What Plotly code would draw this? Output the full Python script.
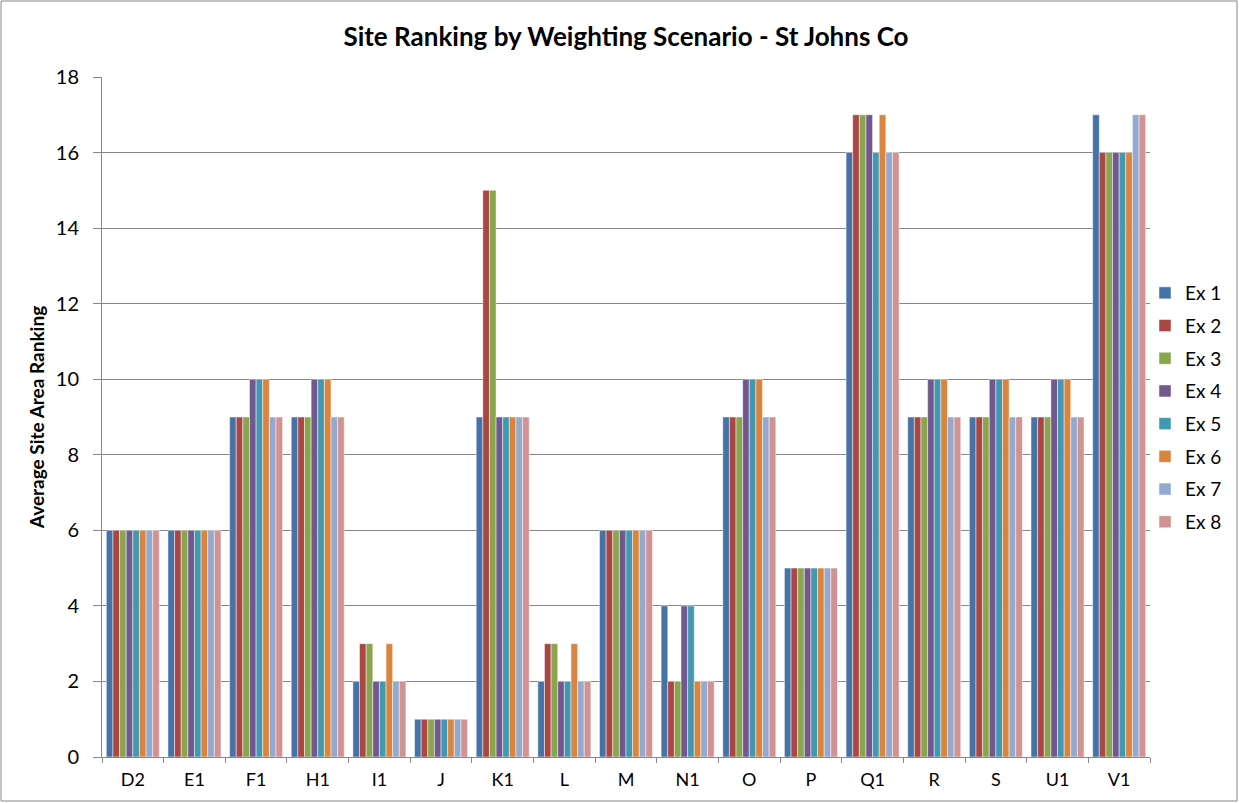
import plotly.graph_objects as go

sites = ["D2", "E1", "F1", "H1", "I1", "J", "K1", "L", "M", "N1", "O", "P", "Q1", "R", "S", "U1", "V1"]
series_names = ["Ex 1", "Ex 2", "Ex 3", "Ex 4", "Ex 5", "Ex 6", "Ex 7", "Ex 8"]
ex1 = [6, 6, 9, 9, 2, 1, 9, 2, 6, 4, 9, 5, 16, 9, 9, 9, 17]
ex2 = [6, 6, 9, 9, 3, 1, 15, 3, 6, 2, 9, 5, 17, 9, 9, 9, 16]
ex3 = [6, 6, 9, 9, 3, 1, 15, 3, 6, 2, 9, 5, 17, 9, 9, 9, 16]
ex4 = [6, 6, 10, 10, 2, 1, 9, 2, 6, 4, 10, 5, 17, 10, 10, 10, 16]
ex5 = [6, 6, 10, 10, 2, 1, 9, 2, 6, 4, 10, 5, 16, 10, 10, 10, 16]
ex6 = [6, 6, 10, 10, 3, 1, 9, 3, 6, 2, 10, 5, 17, 10, 10, 10, 16]
ex7 = [6, 6, 9, 9, 2, 1, 9, 2, 6, 2, 9, 5, 16, 9, 9, 9, 17]
ex8 = [6, 6, 9, 9, 2, 1, 9, 2, 6, 2, 9, 5, 16, 9, 9, 9, 17]
all_series = [ex1, ex2, ex3, ex4, ex5, ex6, ex7, ex8]
colors = ["#4572A7", "#AA4643", "#89A54E", "#71588F", "#4198AF", "#DB843D", "#93A9CF", "#D19392"]

FONT = "Lato, 'Open Sans', sans-serif"

fig = go.Figure()
for name, vals, col in zip(series_names, all_series, colors):
    fig.add_trace(go.Bar(
        x=sites, y=vals, name=name, legendgroup=name,
        marker=dict(color=col, line=dict(color="rgba(255,255,255,0.8)", width=0.6)),
    ))

W, H = 1239, 803
L, R, T, B = 102, 89, 77, 46
pw, ph = W - L - R, H - T - B

fig.update_layout(
    width=W, height=H,
    margin=dict(l=L, r=R, t=T, b=B, autoexpand=False),
    paper_bgcolor="white", plot_bgcolor="white",
    barmode="group", bargap=0.14, bargroupgap=0,
    font=dict(family=FONT, color="black"),
    title=dict(text="<b>Site Ranking by Weighting Scenario - St Johns Co</b>",
               x=(L + pw / 2) / W, xanchor="center", y=1 - 37 / H, yanchor="middle",
               font=dict(size=26, family=FONT)),
    legend=dict(x=(1145 - L) / pw, xanchor="left", y=1 - (407.5 - T) / ph, yanchor="middle",
                font=dict(size=19, family=FONT), tracegroupgap=5,
                bgcolor="rgba(0,0,0,0)"),
    xaxis=dict(
        type="category", showgrid=False,
        showline=True, linecolor="#868686", linewidth=1,
        ticks="outside", tickson="boundaries", ticklen=5, tickcolor="#868686",
        tickfont=dict(size=18, family=FONT), ticklabelstandoff=6,
    ),
    yaxis=dict(
        range=[0, 18], dtick=2, tick0=0,
        showgrid=True, gridcolor="#868686", gridwidth=1,
        showline=True, linecolor="#868686", linewidth=1,
        ticks="outside", ticklen=8, tickcolor="#868686",
        tickfont=dict(size=20, family=FONT), ticklabelstandoff=10,
        zeroline=False,
        title=dict(text="<b>Average Site Area Ranking</b>", font=dict(size=19, family=FONT), standoff=6),
    ),
)

fig.add_shape(type="rect", xref="paper", yref="paper",
              x0=-(L - 1) / pw, x1=1 + (R - 2) / pw, y0=-(B - 2) / ph, y1=1 + (T - 1) / ph,
              line=dict(color="#868686", width=1), fillcolor="rgba(0,0,0,0)", layer="below")

fig.write_html("out.html", config={"displayModeBar": False},
               post_script="document.body.style.margin='0';")
